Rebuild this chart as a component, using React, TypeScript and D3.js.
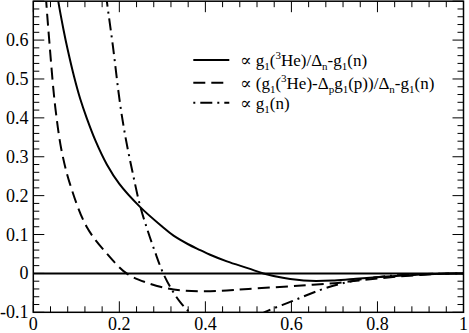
import React from "react";
import * as d3 from "d3";

// x values and curve values
const solidX = [0.05, 0.058, 0.07, 0.08, 0.095, 0.109, 0.124, 0.145, 0.171, 0.2, 0.248, 0.3, 0.326, 0.36, 0.388, 0.411, 0.45, 0.5, 0.535, 0.58, 0.643, 0.7, 0.75, 0.806, 0.85, 0.9, 0.95, 1.0];
const solidY = [0.76, 0.7, 0.628, 0.575, 0.505, 0.449, 0.4, 0.34, 0.28, 0.23, 0.171, 0.12, 0.097, 0.075, 0.06, 0.048, 0.031, 0.013, 0.0, -0.011, -0.019, -0.018, -0.014, -0.009, -0.006, -0.003, -0.001, 0];

const dashedX = [0.027, 0.03, 0.037, 0.047, 0.053, 0.065, 0.085, 0.124, 0.171, 0.217, 0.264, 0.31, 0.35, 0.4, 0.45, 0.5, 0.597, 0.65, 0.7, 0.75, 0.8, 0.85, 0.9, 0.95, 1.0];
const dashedY = [0.76, 0.7, 0.6, 0.47, 0.41, 0.32, 0.231, 0.12, 0.051, 0.0, -0.024, -0.038, -0.044, -0.046, -0.044, -0.04, -0.033, -0.029, -0.025, -0.019, -0.013, -0.008, -0.004, -0.001, 0];

const dashDotX = [0.165, 0.171, 0.185, 0.2016, 0.215, 0.23, 0.248, 0.265, 0.283, 0.302, 0.322, 0.341, 0.364, 0.4, 0.45, 0.5, 0.539, 0.6, 0.666, 0.713, 0.77, 0.82, 0.9, 1.0];
const dashDotY = [0.76, 0.7, 0.585, 0.437, 0.346, 0.264, 0.175, 0.113, 0.055, 0.0, -0.042, -0.073, -0.1, -0.123, -0.135, -0.122, -0.099, -0.072, -0.043, -0.027, -0.014, -0.007, -0.002, 0];

const xTickValues = [0, 0.2, 0.4, 0.6, 0.8, 1];
const xTickLabels = ["0", "0.2", "0.4", "0.6", "0.8", "1"];
const yTickValues = [-0.1, 0, 0.1, 0.2, 0.3, 0.4, 0.5, 0.6];
const yTickLabels = ["-0.1", "0", "0.1", "0.2", "0.3", "0.4", "0.5", "0.6"];

type Part = [string, "n" | "sub" | "sup"];
const legendSolid: Part[] = [["\u221D g", "n"], ["1", "sub"], ["(", "n"], ["3", "sup"], ["He)/\u0394", "n"], ["n", "sub"], ["-g", "n"], ["1", "sub"], ["(n)", "n"]];
const legendDashed: Part[] = [["\u221D (g", "n"], ["1", "sub"], ["(", "n"], ["3", "sup"], ["He)-\u0394", "n"], ["p", "sub"], ["g", "n"], ["1", "sub"], ["(p))/\u0394", "n"], ["n", "sub"], ["-g", "n"], ["1", "sub"], ["(n)", "n"]];
const legendDashDot: Part[] = [["\u221D g", "n"], ["1", "sub"], ["(n)", "n"]];

const W = 469;
const H = 333;
const left = 33.3, right = 463.5, top = 1.2, bottom = 312.3;
const font = "'Liberation Serif', 'Times New Roman', Times, 'DejaVu Serif', serif";
const DASH = "12,6";
const DASHDOT = "2,5,12,5";

function LegendText({ x, y, parts }: { x: number; y: number; parts: Part[] }) {
  let shift = 0;
  return (
    <text x={x} y={y} fontFamily={font} fontSize={17} fill="#000">
      {parts.map(([t, k], i) => {
        const target = k === "sub" ? 4 : k === "sup" ? -7 : 0;
        const dy = target - shift;
        shift = target;
        return (
          <tspan key={i} dy={dy} fontSize={k === "n" ? 17 : 11}>
            {t}
          </tspan>
        );
      })}
    </text>
  );
}

export default function App() {
  const x = d3.scaleLinear().domain([0, 1]).range([left, right]);
  const y = d3.scaleLinear().domain([-0.1, 0.7]).range([bottom, top]);

  const line = d3
    .line<[number, number]>()
    .x((d) => x(d[0]))
    .y((d) => y(d[1]))
    .curve(d3.curveCatmullRom.alpha(0.5));

  const solid = line(solidX.map((v, i) => [v, solidY[i]]) as [number, number][]);
  const dashed = line(dashedX.map((v, i) => [v, dashedY[i]]) as [number, number][]);
  const dashDot = line(dashDotX.map((v, i) => [v, dashDotY[i]]) as [number, number][]);

  const xMinor = d3.range(0, 1.0001, 0.04);
  const yMinor = d3.range(-0.1, 0.7001, 0.02);
  const major = 11;
  const minor = 6;

  return (
    <svg width={W} height={H} style={{ position: "absolute", left: 0, top: 0, background: "#fff" }}>
      <defs>
        <clipPath id="plot">
          <rect x={left} y={top} width={right - left} height={bottom - top} />
        </clipPath>
      </defs>

      {/* ticks on all four sides, pointing inward */}
      <g stroke="#000" strokeWidth={1}>
        {xMinor.map((v, i) => {
          const isMajor = Math.abs(v * 5 - Math.round(v * 5)) < 1e-6;
          const len = isMajor ? major : minor;
          return (
            <g key={"x" + i}>
              <line x1={x(v)} x2={x(v)} y1={bottom} y2={bottom - len} />
              <line x1={x(v)} x2={x(v)} y1={top} y2={top + len} />
            </g>
          );
        })}
        {yMinor.map((v, i) => {
          const isMajor = Math.abs(v * 10 - Math.round(v * 10)) < 1e-6;
          const len = isMajor ? major : minor;
          return (
            <g key={"y" + i}>
              <line x1={left} x2={left + len} y1={y(v)} y2={y(v)} />
              <line x1={right} x2={right - len} y1={y(v)} y2={y(v)} />
            </g>
          );
        })}
      </g>

      {/* zero line */}
      <line x1={left} x2={right} y1={y(0)} y2={y(0)} stroke="#000" strokeWidth={2} />

      <g clipPath="url(#plot)" fill="none" stroke="#000" strokeWidth={2}>
        <path d={solid ?? ""} />
        <path d={dashed ?? ""} strokeDasharray={DASH} />
        <path d={dashDot ?? ""} strokeDasharray={DASHDOT} strokeDashoffset={14} />
      </g>

      <rect x={left} y={top} width={right - left} height={bottom - top} fill="none" stroke="#000" strokeWidth={1.5} />

      {/* tick labels */}
      <g fontFamily={font} fontSize={18} fill="#000">
        {xTickValues.map((v, i) => (
          <text key={"xl" + i} x={x(v)} y={330} textAnchor="middle">
            {xTickLabels[i]}
          </text>
        ))}
        {yTickValues.map((v, i) => (
          <text key={"yl" + i} x={28.5} y={y(v) + 6} textAnchor="end">
            {yTickLabels[i]}
          </text>
        ))}
      </g>

      {/* legend */}
      <g stroke="#000" strokeWidth={2}>
        <line x1={193.3} x2={229.3} y1={60} y2={60} />
        <line x1={193.3} x2={229.3} y1={82.7} y2={82.7} strokeDasharray={DASH} />
        <line x1={193.3} x2={229.3} y1={102.7} y2={102.7} strokeDasharray={DASHDOT} />
      </g>
      <LegendText x={240} y={66} parts={legendSolid} />
      <LegendText x={240} y={88.7} parts={legendDashed} />
      <LegendText x={240} y={108.7} parts={legendDashDot} />
    </svg>
  );
}
